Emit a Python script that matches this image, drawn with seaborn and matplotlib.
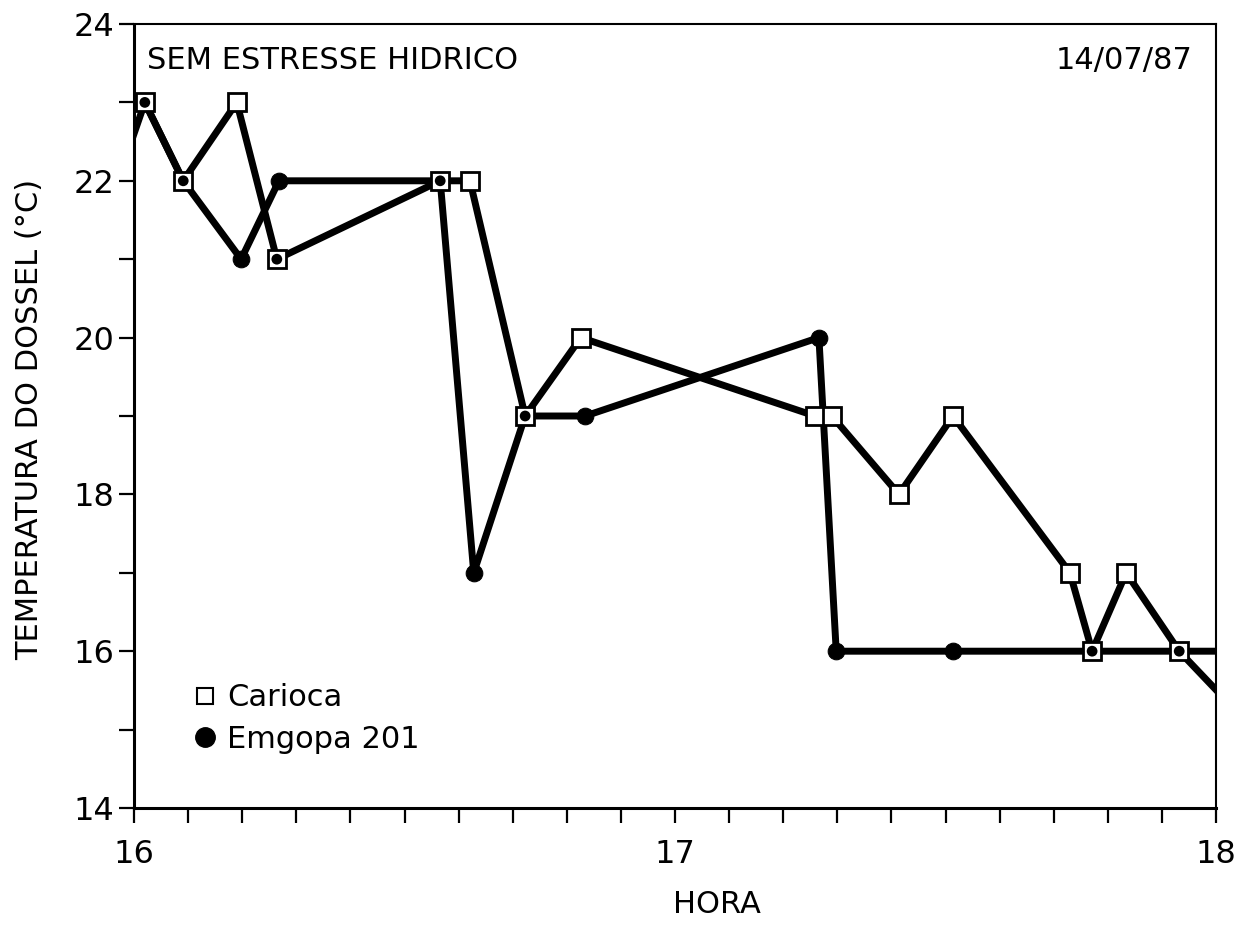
import matplotlib
matplotlib.use("Agg")
import matplotlib.pyplot as plt
from matplotlib.lines import Line2D
from matplotlib.ticker import MultipleLocator, FixedLocator
import seaborn as sns
import pandas as pd

# Hour of day (decimal) and canopy temperature (°C) for each cultivar
carioca_hora = [16.020, 16.091, 16.190, 16.264, 16.566, 16.621, 16.723, 16.826,
                17.259, 17.290, 17.414, 17.514, 17.730, 17.771, 17.834, 17.932, 18.07]
carioca_temp = [23, 22, 23, 21, 22, 22, 19, 20, 19, 19, 18, 19, 17, 16, 17, 16, 15]

emgopa_hora = [15.97, 16.020, 16.091, 16.198, 16.268, 16.566, 16.628, 16.723, 16.834,
               17.266, 17.298, 17.514, 17.771, 17.932, 18.07]
emgopa_temp = [22, 23, 22, 21, 22, 22, 17, 19, 19, 20, 16, 16, 16, 16, 16]

# Carioca readings printed with a centre dot
carioca_dotted = [0, 1, 3, 4, 6, 13, 15]

x_ticks = [16, 17, 18]
y_ticks = [14, 16, 18, 20, 22, 24]

sns.set_theme(style="white")
plt.rcParams["font.family"] = ["DejaVu Sans"]
plt.rcParams.update({"text.color": "black", "axes.labelcolor": "black",
                     "xtick.color": "black", "ytick.color": "black"})

fig = plt.figure(figsize=(12.36, 9.25), dpi=100)
ax = fig.add_axes([134 / 1236, 1 - 808 / 925, (1216 - 134) / 1236, (808 - 24) / 925])

df_e = pd.DataFrame({"hora": emgopa_hora, "temp": emgopa_temp})
df_c = pd.DataFrame({"hora": carioca_hora, "temp": carioca_temp})

sns.lineplot(data=df_e, x="hora", y="temp", ax=ax, sort=False, estimator=None,
             color="black", linewidth=5, marker="o", markersize=12,
             markerfacecolor="black", markeredgecolor="black", zorder=2)
sns.lineplot(data=df_c, x="hora", y="temp", ax=ax, sort=False, estimator=None,
             color="black", linewidth=5, marker="s", markersize=13.5,
             markerfacecolor="white", markeredgecolor="black", markeredgewidth=2,
             zorder=3)
dots = df_c.iloc[carioca_dotted]
sns.scatterplot(data=dots, x="hora", y="temp", ax=ax, color="black", s=60,
                edgecolor="none", zorder=4)

ax.set_xlim(16, 18)
ax.set_ylim(14, 24)
ax.xaxis.set_major_locator(FixedLocator(x_ticks))
ax.xaxis.set_minor_locator(MultipleLocator(0.1))
ax.yaxis.set_major_locator(FixedLocator(y_ticks))
ax.yaxis.set_minor_locator(MultipleLocator(1))
ax.set_xticklabels([str(v) for v in x_ticks])
ax.set_yticklabels([str(v) for v in y_ticks])

ax.tick_params(axis="both", which="both", direction="out", color="black",
               length=11, width=1.6)
ax.tick_params(axis="x", which="both", bottom=True, top=False, labelsize=23, pad=11)
ax.tick_params(axis="y", which="both", left=True, right=False, labelsize=23, pad=3)

for side, lw in {"left": 2.2, "bottom": 2.2, "top": 1.5, "right": 1.5}.items():
    ax.spines[side].set_visible(True)
    ax.spines[side].set_color("black")
    ax.spines[side].set_linewidth(lw)

ax.set_xlabel("HORA", fontsize=22)
ax.xaxis.set_label_coords(0.539, -0.105)
ax.set_ylabel("TEMPERATURA DO DOSSEL (°C)", fontsize=22)
ax.yaxis.set_label_coords(-0.083, 0.495)

ax.text(0.012, 0.972, "SEM ESTRESSE HIDRICO", transform=ax.transAxes,
        fontsize=22, ha="left", va="top")
ax.text(0.978, 0.972, "14/07/87", transform=ax.transAxes,
        fontsize=22, ha="right", va="top")

handles = [
    Line2D([], [], linestyle="none", marker="s", markersize=12,
           markerfacecolor="white", markeredgecolor="black", markeredgewidth=1.5),
    Line2D([], [], linestyle="none", marker="o", markersize=14,
           markerfacecolor="black", markeredgecolor="black"),
]
ax.legend(handles, ["Carioca", "Emgopa 201"], loc="lower left",
          bbox_to_anchor=(0.042, 0.05), frameon=False, fontsize=22,
          handlelength=0.7, handletextpad=0.35, labelspacing=0.4, borderpad=0)

fig.savefig("out.png", dpi=100, facecolor="white")
